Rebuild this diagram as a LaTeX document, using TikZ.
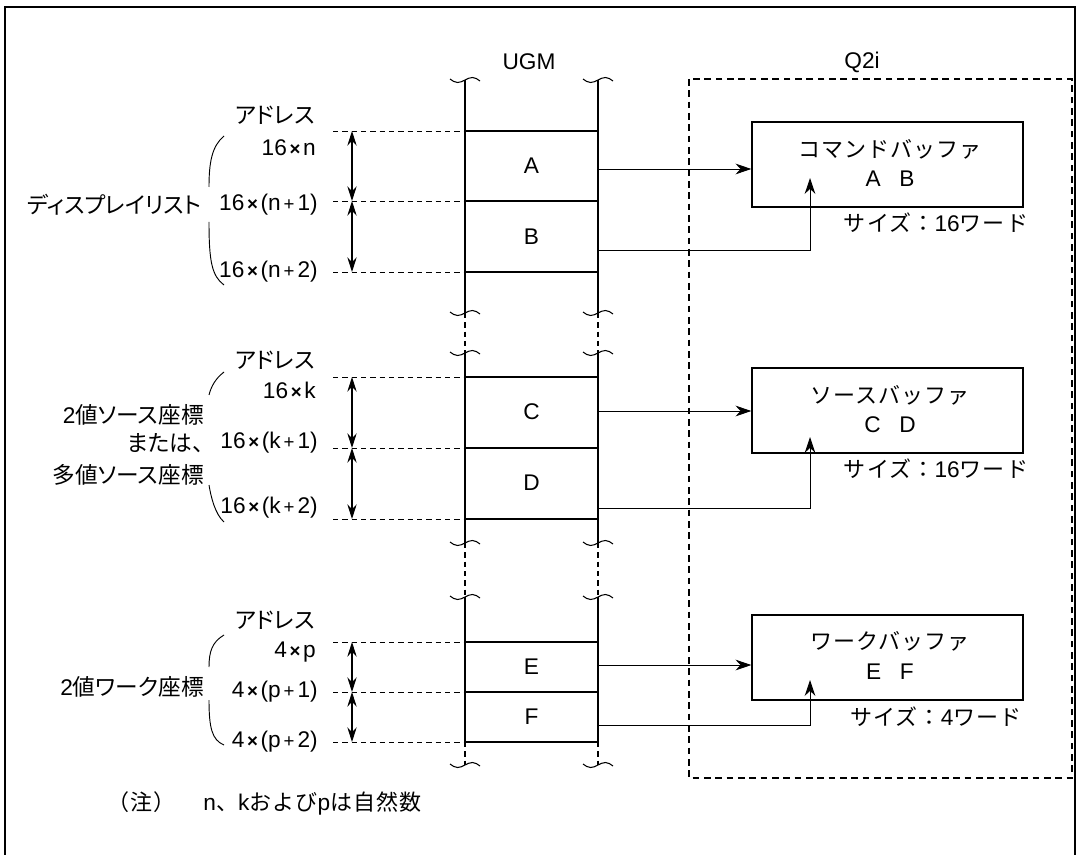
\documentclass[tikz,border=0pt]{standalone}
\usepackage{fontspec}
\setmainfont{Liberation Sans}
\newfontfamily\jp{Noto Sans CJK JP}[RawFeature=+palt]
\newfontfamily\jps{Noto Sans CJK JP}[LetterSpace=5]
\usetikzlibrary{arrows.meta}
\newcommand\brkmark[2]{\draw[brkline] (#1-15,#2-1) sin (#1-7.5,#2+2.5) cos (#1,#2) sin (#1+7.5,#2-2.5) cos (#1+15,#2+1);}
\newcommand\tm{\kern2pt{\fontsize{14}{16}\selectfont\bfseries ×}\kern2pt}
\newcommand\pl{\kern2.2pt{\fontsize{14}{16}\selectfont +}\kern2.2pt}
\begin{document}
\begin{tikzpicture}[x=0.75pt,y=-0.75pt,
  font=\fontsize{17}{20}\selectfont,
  lbl/.style={inner sep=0pt},
  addr/.style={inner sep=0pt, anchor=east},
  grp/.style={inner sep=0pt, anchor=east, font=\fontsize{17}{20}\selectfont},
  jtxt/.style={inner sep=0pt, font=\fontsize{17}{20}\selectfont},
  rowline/.style={line width=0.9pt},
  colline/.style={line width=0.9pt},
  coldash/.style={line width=0.9pt, dash pattern=on 4pt off 3pt},
  addrdash/.style={line width=0.7pt, dash pattern=on 4pt off 3pt},
  dbl/.style={{Stealth[length=11pt,width=7pt]}-{Stealth[length=11pt,width=7pt]}, line width=0.8pt},
  conn/.style={-{Stealth[length=12pt,width=8pt]}, line width=0.7pt},
  brkline/.style={line width=0.8pt},
  bracepart/.style={line width=0.7pt},
  buf/.style={draw, line width=0.8pt, minimum width=203.25pt, minimum height=63.75pt, inner sep=0pt},
  boxtxt/.style={inner sep=0pt, font=\fontsize{16.5}{20}\selectfont}]
\useasboundingbox (0,0) rectangle (1077,855);
% outer frame
\draw[line width=1.4pt] (5,860) -- (5,7) -- (1075,7) -- (1075,860);

% titles
\node[lbl] (ugm) at (529,62) {UGM};
\node[lbl] (q2i) at (862,62) {Q2i};
\draw[line width=0.8pt, dash pattern=on 5pt off 3.5pt] (689,79) rectangle (1072,778);

% UGM columns
\foreach \x in {465,598}{
  \draw[colline] (\x,80) -- (\x,313);
  \draw[coldash] (\x,313) -- (\x,353);
  \draw[colline] (\x,353) -- (\x,543);
  \draw[coldash] (\x,543) -- (\x,597);
  \draw[colline] (\x,597) -- (\x,742);
  \draw[coldash] (\x,742) -- (\x,765);
  \foreach \y in {80,313,353,543,597,765}{ \brkmark{\x}{\y} }
}

% rows and address lines
\foreach \y/\n in {131/r1,201/r2,272/r3,377/r4,448/r5,519/r6,642/r7,692/r8,742/r9}{
  \coordinate (\n L) at (465,\y);
  \coordinate (\n R) at (598,\y);
  \coordinate (\n D) at (333,\y);
  \coordinate (\n M) at (352,\y);
  \draw[addrdash] (\n D) -- (\n L);
}
\draw[line width=1.8pt] (r1L) -- (r1R);
\foreach \n in {r2,r3,r4,r5,r6,r7,r8,r9}{ \draw[rowline] (\n L) -- (\n R); }
\draw[dbl] (r1M) -- (r2M);
\draw[dbl] (r2M) -- (r3M);
\draw[dbl] (r4M) -- (r5M);
\draw[dbl] (r5M) -- (r6M);
\draw[dbl] (r7M) -- (r8M);
\draw[dbl] (r8M) -- (r9M);

% cell letters
\node[lbl] (cA) at (531.5,166) {A};
\node[lbl] (cB) at (531.5,237) {B};
\node[lbl] (cC) at (531.5,412) {C};
\node[lbl] (cD) at (531.5,483) {D};
\node[lbl] (cE) at (531.5,667) {E};
\node[lbl] (cF) at (531.5,717) {F};

% address labels
\node[jtxt] (ad1) at (275,115) {\jp アドレス};
\node[addr] (a1) at (316,148) {16\tm n};
\node[addr] (a2) at (318,205) {16\tm(n\pl 1)};
\node[addr] (a3) at (318,272) {16\tm(n\pl 2)};
\node[jtxt] (ad2) at (275,360) {\jp アドレス};
\node[addr] (a4) at (316,390) {16\tm k};
\node[addr] (a5) at (318,443) {16\tm(k\pl 1)};
\node[addr] (a6) at (318,508) {16\tm(k\pl 2)};
\node[jtxt] (ad3) at (275,620) {\jp アドレス};
\node[addr] (a7) at (316,652) {4\tm p};
\node[addr] (a8) at (318,692) {4\tm(p\pl 1)};
\node[addr] (a9) at (318,742) {4\tm(p\pl 2)};

% group labels
\node[grp] (g1) at (202,205) {\jp ディスプレイリスト};
\node[grp] (g2a) at (204,415) {2{\jp 値ソース座標}};
\node[grp] (g2b) at (204,443) {\jp または、};
\node[grp] (g2c) at (204,475) {\jp 多値ソース座標};
\node[grp] (g3) at (204,687) {2{\jp 値ワーク座標}};

% braces
\draw[bracepart] (224,136) .. controls (212,146) and (209,162) .. (209,187);
\draw[bracepart] (209,222) .. controls (209,262) and (212,276) .. (224,285);
\draw[bracepart] (224,372) .. controls (215,379) and (211,387) .. (209,395);
\draw[bracepart] (209,485) .. controls (211,497) and (215,514) .. (224,522);
\draw[bracepart] (224,635) .. controls (212,642) and (209,652) .. (209,667);
\draw[bracepart] (209,700) .. controls (209,728) and (212,740) .. (224,745);

% buffers
\node[buf] (b1) at (887.5,164.5) {};
\node[boxtxt] (b1t) at (890,149) {\jps コマンドバッファ};
\node[lbl] (b1l) at (890,179) {A\hspace{14pt}B};
\node[boxtxt] (b1s) at (936,223) {{\jps サイズ：}{\fontsize{17}{20}\selectfont 16}{\jps ワード}};
\node[buf] (b2) at (887.5,410.5) {};
\node[boxtxt] (b2t) at (890,395) {\jps ソースバッファ};
\node[lbl] (b2l) at (890,425) {C\hspace{14pt}D};
\node[boxtxt] (b2s) at (936,469) {{\jps サイズ：}{\fontsize{17}{20}\selectfont 16}{\jps ワード}};
\node[buf] (b3) at (887.5,657.5) {};
\node[boxtxt] (b3t) at (890,641) {\jps ワークバッファ};
\node[lbl] (b3l) at (890,672) {E\hspace{14pt}F};
\node[boxtxt] (b3s) at (936,717) {{\jps サイズ：}{\fontsize{17}{20}\selectfont 4}{\jps ワード}};

% connectors
\coordinate (oA) at (598,169);
\coordinate (oB) at (598,250);
\coordinate (tB) at (810,178);
\coordinate (oC) at (598,411);
\coordinate (oD) at (598,508);
\coordinate (tD) at (810,437);
\coordinate (oE) at (598,665);
\coordinate (oF) at (598,725);
\coordinate (tF) at (810,680);
\draw[conn] (oA) -- (oA -| b1.west);
\draw[conn] (oB) -| (tB);
\draw[conn] (oC) -- (oC -| b2.west);
\draw[conn] (oD) -| (tD);
\draw[conn] (oE) -- (oE -| b3.west);
\draw[conn] (oF) -| (tF);

% note
\node[boxtxt, anchor=west] (note) at (107,803) {{\jps （注）}\hspace{21pt}{\fontsize{17}{20}\selectfont n}{\jps 、}{\fontsize{17}{20}\selectfont k}{\jps および}{\fontsize{17}{20}\selectfont p}{\jps は自然数}};
\end{tikzpicture}
\end{document}
